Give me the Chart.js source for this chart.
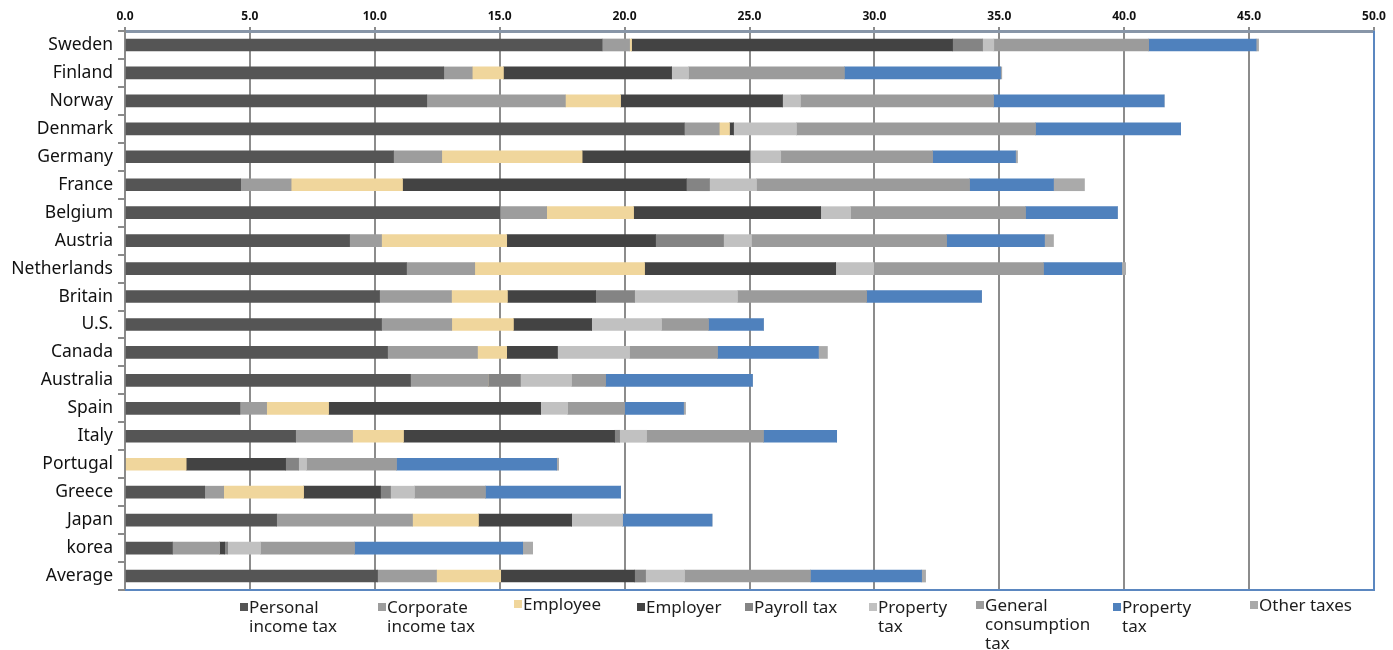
<!DOCTYPE html>
<html>
<head>
<meta charset="utf-8">
<script src="https://cdn.jsdelivr.net/npm/chart.js@4.4.1/dist/chart.umd.min.js"></script>
<style>
  html, body { margin: 0; padding: 0; background: #fff; }
  #wrap { position: relative; width: 1393px; height: 650px; }
  canvas { position: absolute; left: 0; top: 0; }
  .lg { position: absolute; top: 597px; font-family: "Noto Sans", sans-serif; font-size: 17px; line-height: 19px; color: #1e1e1e; white-space: nowrap; }
  .lg i { position: absolute; left: -9px; top: 6px; width: 8px; height: 8px; }
</style>
</head>
<body>
<div id="wrap">
  <canvas id="c" width="1393" height="650"></canvas>
  <div id="legend"></div>
</div>
<script>
const countries = ['Sweden','Finland','Norway','Denmark','Germany','France','Belgium','Austria','Netherlands','Britain','U.S.','Canada','Australia','Spain','Italy','Portugal','Greece','Japan','korea','Average'];

const personalIncome = [19.1, 12.76, 12.08, 22.39, 10.75, 4.63, 15.01, 8.99, 11.27, 10.19, 10.27, 10.51, 11.43, 4.6, 6.83, 0, 3.19, 6.07, 1.9, 10.11];
const corporateIncome = [1.1, 1.14, 5.55, 1.4, 1.93, 2.02, 1.87, 1.28, 2.73, 2.88, 2.81, 3.6, 3.12, 1.07, 2.28, 0, 0.76, 5.44, 1.89, 2.36];
const employee = [0.08, 1.25, 2.21, 0.41, 5.62, 4.46, 3.48, 5.01, 6.8, 2.24, 2.47, 1.17, 0, 2.48, 2.04, 2.45, 3.2, 2.64, 0, 2.57];
const employer = [12.85, 6.73, 6.48, 0.16, 6.72, 11.36, 7.49, 5.96, 7.65, 3.53, 3.13, 2.03, 0, 8.49, 8.45, 3.98, 3.08, 3.73, 0.2, 5.36];
const payrollTax = [1.2, 0, 0, 0, 0, 0.93, 0, 2.72, 0, 1.56, 0, 0, 1.28, 0, 0.2, 0.52, 0.4, 0, 0.12, 0.44];
const propertyTaxA = [0.45, 0.68, 0.72, 2.52, 1.23, 1.88, 1.2, 1.12, 1.52, 4.12, 2.8, 2.89, 2.05, 1.08, 1.08, 0.32, 0.96, 2.04, 1.32, 1.56];
const generalConsumption = [6.2, 6.24, 7.73, 9.57, 6.08, 8.53, 7.0, 7.81, 6.8, 5.17, 1.88, 3.52, 1.36, 2.28, 4.68, 3.6, 2.84, 0, 3.76, 5.04];
const propertyTaxB = [4.3, 6.25, 6.83, 5.81, 3.32, 3.36, 3.68, 3.92, 3.13, 4.6, 2.2, 4.04, 5.88, 2.36, 2.93, 6.41, 5.41, 3.58, 6.73, 4.45];
const otherTaxes = [0.1, 0.05, 0, 0, 0.08, 1.24, 0, 0.36, 0.16, 0, 0, 0.36, 0, 0.08, 0, 0.08, 0, 0, 0.4, 0.16];

const xTicks = [0, 5, 10, 15, 20, 25, 30, 35, 40, 45, 50];

const seriesLabels = [
  ['Personal', 'income tax'],
  ['Corporate', 'income tax'],
  ['Employee'],
  ['Employer'],
  ['Payroll tax'],
  ['Property', 'tax'],
  ['General', 'consumption', 'tax'],
  ['Property', 'tax'],
  ['Other taxes']
];
const seriesData = [personalIncome, corporateIncome, employee, employer, payrollTax, propertyTaxA, generalConsumption, propertyTaxB, otherTaxes];
const seriesColors = ['#555555', '#9d9d9d', '#f0d69c', '#434343', '#848484', '#c1c1c1', '#9b9b9b', '#4f81bd', '#aaaaaa'];
const legendLeft = [249, 387, 523, 646, 754, 878, 985, 1122, 1259];
const legendTop = [597, 597, 594, 597, 597, 597, 595, 597, 595];

const datasets = seriesData.map((d, i) => ({
  label: seriesLabels[i].join(' '),
  data: d,
  backgroundColor: seriesColors[i],
  borderWidth: 0,
  barThickness: 12
}));

// HTML legend
const lg = document.getElementById('legend');
seriesLabels.forEach((lines, i) => {
  const div = document.createElement('div');
  div.className = 'lg';
  div.style.left = legendLeft[i] + 'px';
  div.style.top = legendTop[i] + 'px';
  const sw = document.createElement('i');
  sw.style.background = seriesColors[i];
  div.appendChild(sw);
  lines.forEach((t, k) => {
    if (k) div.appendChild(document.createElement('br'));
    div.appendChild(document.createTextNode(t));
  });
  lg.appendChild(div);
});

const borderPlugin = {
  id: 'borders',
  afterDatasetsDraw(chart) {
    const { ctx, chartArea: a } = chart;
    ctx.save();
    ctx.strokeStyle = '#5b87c0';
    ctx.lineWidth = 2;
    ctx.beginPath();
    ctx.moveTo(a.left, a.bottom);
    ctx.lineTo(a.right, a.bottom);
    ctx.lineTo(a.right, a.top);
    ctx.stroke();
    ctx.restore();
  }
};

new Chart(document.getElementById('c'), {
  type: 'bar',
  data: { labels: countries, datasets },
  options: {
    indexAxis: 'y',
    responsive: false,
    animation: false,
    layout: { padding: { left: 0, right: 19, top: 0, bottom: 60 } },
    plugins: { legend: { display: false }, tooltip: { enabled: false } },
    scales: {
      x: {
        position: 'top',
        stacked: true,
        min: 0, max: 50,
        afterBuildTicks: (s) => { s.ticks = xTicks.map(v => ({ value: v })); },
        afterFit: (s) => { s.height = 31; },
        ticks: {
          callback: (v) => Number(v).toFixed(1),
          font: { family: 'Noto Sans', size: 12, weight: 'bold' },
          color: '#111',
          padding: 3,
          maxRotation: 0
        },
        grid: { color: '#8c8c8c', lineWidth: 2, tickLength: 4, drawTicks: true },
        border: { color: '#8896a8', width: 3 }
      },
      y: {
        stacked: true,
        afterFit: (s) => { s.width = 125; },
        ticks: {
          font: { family: 'Noto Sans', size: 17.5 },
          color: '#111',
          padding: 5
        },
        grid: { drawOnChartArea: false, color: '#8a8a8a', lineWidth: 2, tickLength: 7, offset: true },
        border: { color: '#8a8a8a', width: 2 }
      }
    }
  },
  plugins: [borderPlugin]
});
</script>
</body>
</html>
